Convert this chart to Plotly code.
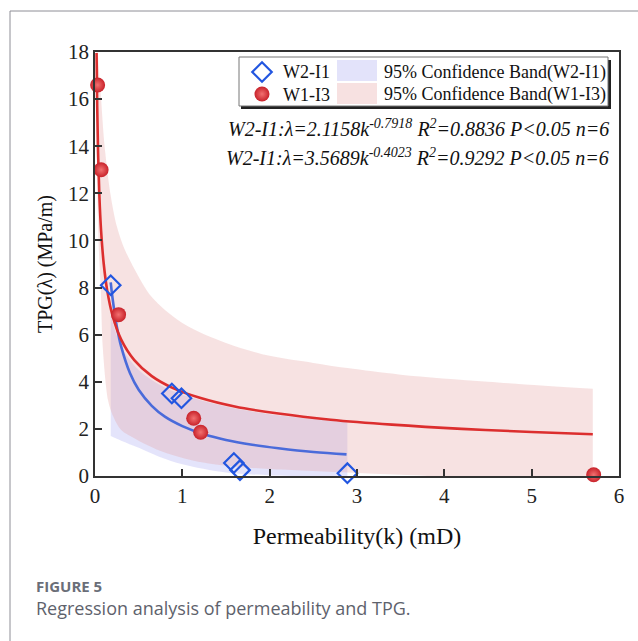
import plotly.graph_objects as go

# ---------------- data ----------------
# measured points
k_w2 = [0.18, 0.88, 0.99, 1.59, 1.66, 2.89]
tpg_w2 = [8.1, 3.5, 3.3, 0.55, 0.25, 0.12]
k_w1 = [0.03, 0.07, 0.27, 1.13, 1.21, 5.71]
tpg_w1 = [16.6, 13.0, 6.85, 2.45, 1.86, 0.05]

# fitted curves
fit_k_w1 = [0.018, 0.025, 0.035, 0.05, 0.07, 0.1, 0.14, 0.2, 0.3, 0.45, 0.65, 0.9, 1.2, 1.6, 2.1, 2.7, 3.4, 4.2, 5.0, 5.7]
fit_tpg_w1 = [17.96, 15.74, 13.75, 11.91, 10.40, 9.01, 7.87, 6.82, 5.79, 4.92, 4.24, 3.72, 3.32, 2.95, 2.65, 2.39, 2.18, 2.00, 1.87, 1.77]
fit_k_w2 = [0.18, 0.2, 0.25, 0.3, 0.4, 0.5, 0.65, 0.8, 1.0, 1.25, 1.5, 1.8, 2.1, 2.5, 2.88]
fit_tpg_w2 = [8.22, 7.57, 6.34, 5.49, 4.37, 3.66, 2.98, 2.52, 2.12, 1.77, 1.53, 1.33, 1.18, 1.02, 0.92]

# confidence bands
band_k_w1_up = [0.018, 0.04, 0.07, 0.11, 0.18, 0.25, 0.32, 0.45, 0.65, 1.0, 1.5, 2.0, 2.5, 2.89, 3.5, 4.5, 5.7]
band_w1_up = [19.0, 17.5, 16.0, 14.0, 11.9, 10.6, 9.8, 8.8, 7.6, 6.5, 5.65, 5.1, 4.8, 4.58, 4.3, 4.0, 3.7]
band_k_w1_lo = [0.018, 0.03, 0.045, 0.065, 0.09, 0.15, 0.2, 0.3, 0.45, 0.56, 0.76, 1.13, 1.6, 2.0, 2.89, 3.5, 4.5, 5.7]
band_w1_lo = [14.5, 11.5, 9.5, 8.0, 5.4, 3.2, 2.6, 1.95, 1.6, 1.38, 1.05, 0.65, 0.4, 0.3, 0.15, 0.05, -0.1, -0.2]

band_k_w2 = [0.18, 0.3, 0.5, 0.75, 1.0, 1.5, 2.0, 2.5, 2.89]
band_w2_up = [6.8, 5.5, 4.5, 3.85, 3.45, 2.95, 2.62, 2.42, 2.28]
band_w2_lo = [1.7, 1.5, 1.2, 0.8, 0.5, 0.15, 0.03, -0.02, -0.05]

x_ticks = [0, 1, 2, 3, 4, 5, 6]
y_ticks = [0, 2, 4, 6, 8, 10, 12, 14, 16, 18]

# ---------------- styles ----------------
SERIF = "Liberation Serif"
RED_LINE = "#DC2E2E"
BLUE_LINE = "#4A6BDA"
DIAMOND = "#2256E0"
SPHERE = "#C8222A"
SPHERE_HI = "#F27070"
RED_FILL = "rgba(228,158,158,0.30)"
BLUE_FILL = "rgba(150,150,240,0.26)"

W, H = 638, 641
L, R, T, B = 95, 19, 52, 165
PW, PH = W - L - R, H - T - B


def px(xp):
    return (xp - L) / PW


def py(yp):
    return (H - B - yp) / PH


fig = go.Figure()

# bands: lower boundary, then upper boundary filled to it
fig.add_trace(go.Scatter(x=band_k_w2, y=band_w2_lo, mode="lines",
                         line=dict(width=0, shape="spline", smoothing=0.9), hoverinfo="skip", showlegend=False))
fig.add_trace(go.Scatter(x=band_k_w2, y=band_w2_up, mode="lines", fill="tonexty", fillcolor=BLUE_FILL,
                         line=dict(width=0, shape="spline", smoothing=0.9), hoverinfo="skip", showlegend=False,
                         name="95% Confidence Band(W2-I1)"))
fig.add_trace(go.Scatter(x=band_k_w1_lo, y=band_w1_lo, mode="lines",
                         line=dict(width=0, shape="spline", smoothing=0.9), hoverinfo="skip", showlegend=False))
fig.add_trace(go.Scatter(x=band_k_w1_up, y=band_w1_up, mode="lines", fill="tonexty", fillcolor=RED_FILL,
                         line=dict(width=0, shape="spline", smoothing=0.9), hoverinfo="skip", showlegend=False,
                         name="95% Confidence Band(W1-I3)"))

# fit lines
fig.add_trace(go.Scatter(x=fit_k_w2, y=fit_tpg_w2, mode="lines", line=dict(color=BLUE_LINE, width=2.6, shape="spline"),
                         showlegend=False))
fig.add_trace(go.Scatter(x=fit_k_w1, y=fit_tpg_w1, mode="lines", line=dict(color=RED_LINE, width=2.6, shape="spline"),
                         showlegend=False))

# points
diamond_marker = dict(symbol="diamond-open", size=15, color=DIAMOND, line=dict(width=2.2, color=DIAMOND))
sphere_marker = dict(symbol="circle", size=15, color=SPHERE, line=dict(width=0),
                     gradient=dict(type="radial", color=SPHERE_HI))
fig.add_trace(go.Scatter(x=k_w2, y=tpg_w2, mode="markers", marker=diamond_marker, name="W2-I1",
                         showlegend=False, cliponaxis=False))
fig.add_trace(go.Scatter(x=k_w1, y=tpg_w1, mode="markers", marker=sphere_marker, name="W1-I3",
                         showlegend=False, cliponaxis=False))

# legend markers on an overlay axis (fractions of the plot area)
fig.add_trace(go.Scatter(x=[px(262)], y=[py(72)], mode="markers", marker=diamond_marker,
                         xaxis="x2", yaxis="y2", showlegend=False, hoverinfo="skip"))
fig.add_trace(go.Scatter(x=[px(262)], y=[py(94)], mode="markers", marker=sphere_marker,
                         xaxis="x2", yaxis="y2", showlegend=False, hoverinfo="skip"))

shapes = []
# page border (top and left)
shapes.append(dict(type="line", xref="paper", yref="paper", x0=px(10), x1=px(W + 5), y0=py(11), y1=py(11),
                   line=dict(color="#8E8E96", width=1)))
shapes.append(dict(type="line", xref="paper", yref="paper", x0=px(10), x1=px(10), y0=py(11), y1=py(H + 5),
                   line=dict(color="#8E8E96", width=1)))
# legend box with shadow
shapes.append(dict(type="rect", xref="paper", yref="paper", x0=px(241), x1=px(611), y0=py(60), y1=py(109),
                   line=dict(width=0), fillcolor="#222222", layer="below"))
shapes.append(dict(type="rect", xref="paper", yref="paper", x0=px(239), x1=px(608), y0=py(57), y1=py(106),
                   line=dict(color="#777777", width=1), fillcolor="white", layer="below"))
# legend swatches
shapes.append(dict(type="rect", xref="paper", yref="paper", x0=px(337), x1=px(377), y0=py(60), y1=py(81),
                   line=dict(width=0), fillcolor="#E3E3FA", layer="below"))
shapes.append(dict(type="rect", xref="paper", yref="paper", x0=px(337), x1=px(377), y0=py(83), y1=py(104),
                   line=dict(width=0), fillcolor="#F7E1E1", layer="below"))

ann = []
leg_font = dict(family=SERIF, size=18, color="#111111")
ann.append(dict(text="W2-I1", x=px(281), y=py(72), xref="paper", yref="paper", xanchor="left", yanchor="middle",
                showarrow=False, font=leg_font))
ann.append(dict(text="W1-I3", x=px(281), y=py(95), xref="paper", yref="paper", xanchor="left", yanchor="middle",
                showarrow=False, font=leg_font))
ann.append(dict(text="95% Confidence Band(W2-I1)", x=px(382), y=py(72), xref="paper", yref="paper",
                xanchor="left", yanchor="middle", showarrow=False, font=leg_font))
ann.append(dict(text="95% Confidence Band(W1-I3)", x=px(382), y=py(95), xref="paper", yref="paper",
                xanchor="left", yanchor="middle", showarrow=False, font=leg_font))
eq_font = dict(family=SERIF, size=20, color="#111111")
ann.append(dict(text="<i>W2-I1:λ=2.1158k<sup>-0.7918</sup> R<sup>2</sup>=0.8836 P&lt;0.05 n=6</i>",
                x=px(611), y=py(128), xref="paper", yref="paper", xanchor="right", yanchor="middle",
                showarrow=False, font=eq_font))
ann.append(dict(text="<i>W2-I1:λ=3.5689k<sup>-0.4023</sup> R<sup>2</sup>=0.9292 P&lt;0.05 n=6</i>",
                x=px(611), y=py(157), xref="paper", yref="paper", xanchor="right", yanchor="middle",
                showarrow=False, font=eq_font))
# caption
ann.append(dict(text="<b>FIGURE 5</b>", x=px(34), y=py(586), xref="paper", yref="paper", xanchor="left",
                yanchor="middle", showarrow=False, font=dict(family="Open Sans", size=15, color="#6A6E78")))
ann.append(dict(text="Regression analysis of permeability and TPG.", x=px(34), y=py(608), xref="paper",
                yref="paper", xanchor="left", yanchor="middle", showarrow=False,
                font=dict(family="Open Sans", size=18, color="#5E626C")))

axis_common = dict(showline=True, linecolor="#333333", linewidth=1.5, mirror=True, ticks="inside", ticklen=7,
                   tickwidth=1.5, tickcolor="#333333", showgrid=False, zeroline=False,
                   tickfont=dict(family=SERIF, size=21, color="#222222"))

fig.update_layout(
    width=W, height=H,
    margin=dict(l=L, r=R, t=T, b=B, pad=0),
    paper_bgcolor="white", plot_bgcolor="rgba(0,0,0,0)",
    showlegend=False,
    xaxis=dict(range=[0, 6], tickvals=x_ticks, ticktext=[str(v) for v in x_ticks],
               title=dict(text="Permeability(k) (mD)", font=dict(family=SERIF, size=24, color="#111111"),
                          standoff=20), **axis_common),
    yaxis=dict(range=[0, 18], tickvals=y_ticks, ticktext=[str(v) for v in y_ticks],
               title=dict(text="TPG(λ) (MPa/m)", font=dict(family=SERIF, size=20, color="#111111"),
                          standoff=10), **axis_common),
    xaxis2=dict(range=[0, 1], overlaying="x", visible=False),
    yaxis2=dict(range=[0, 1], overlaying="y", visible=False),
    shapes=shapes,
    annotations=ann,
)

fig.write_html("out.html")
